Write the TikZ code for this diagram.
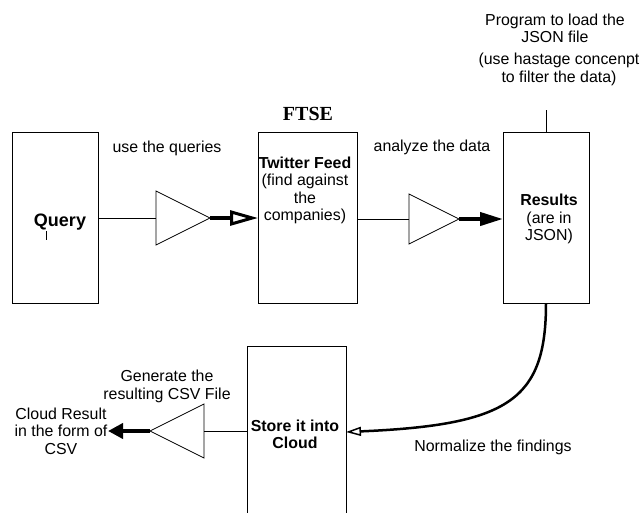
\documentclass[tikz,border=0pt]{standalone}
\usepackage{fontspec}
\setmainfont{Liberation Sans}
\newfontfamily\ftsefont{Liberation Serif}
\usepackage{tikz}
\usetikzlibrary{arrows.meta,shapes.geometric}
\tikzstyle{blockbox}=[rectangle,draw=black,line width=0.8pt,inner sep=0pt,outer sep=0pt]
\tikzstyle{amp}=[isosceles triangle,isosceles triangle stretches,draw=black,line width=0.8pt,inner sep=0pt,outer sep=0pt,minimum width=54pt,minimum height=54pt]
\tikzstyle{thinedge} = [draw,line width=0.8pt]
\tikzstyle{fatedge} = [draw,line width=4pt]
\tikzstyle{txt} = [align=center,inner sep=0pt,font=\fontsize{15.9}{17.5}\selectfont]

\begin{document}
\begin{tikzpicture}[x=1pt,y=-1pt]
  \useasboundingbox (0,0) rectangle (642,512);

   \foreach \x/\y/\w/\h/\name in {55/217.5/86/171/query, 307.5/217.5/99/171/twit, 546/217.5/86/171/res, 296.5/432/99/172/store}
          \node[blockbox,minimum width=\w pt,minimum height=\h pt] (\name) at (\x,\y) {};

   \node[amp,anchor=apex] (amp1) at (210,218) {};
   \node[amp,anchor=apex,minimum width=50pt,minimum height=50pt] (amp2) at (459,219) {};
   \node[amp,anchor=apex,shape border rotate=180] (amp3) at (150,431) {};

   \foreach \x/\y/\name/\label in {305/190.5/twittxt/{\textbf{Twitter Feed}\\(find against\\the\\companies)}, 549/219/restxt/{\textbf{Results}\\(are in\\JSON)}, 295/434.5/storetxt/{\textbf{Store it into}\\\textbf{Cloud}}}
          \node[txt] (\name) at (\x,\y) {\label};
   \node[txt,font=\bfseries\fontsize{18}{20}\selectfont] (querytxt) at (60,222) {Query};

   \foreach \x/\y/\name/\label in {167/148/usetxt/{use the queries}, 432/147/analyzetxt/{analyze the data}, 493/447/normtxt/{Normalize the findings}, 167/386.5/gentxt/{Generate the\\resulting CSV File}, 61/431/csvtxt/{Cloud Result\\in the form of\\CSV}, 555/28.5/progtxt/{Program to load the\\JSON file}, 559/69.5/hashtxt/{(use hastage concenpt\\to filter the data)}}
          \node[txt] (\name) at (\x,\y) {\label};

   \node[inner sep=0pt,font=\ftsefont\bfseries\fontsize{20}{22}\selectfont] (ftse) at (308,114) {FTSE};

   \coordinate (progend) at (546,110);
   \coordinate (csvend) at (108,431);

  \path[thinedge] (query.east |- amp1.lower side) -- (amp1.lower side);
  \path[fatedge,-{Triangle[open,length=28pt,width=15pt,line width=3pt]}] (amp1.apex) -- (amp1.apex -| twit.west);
  \path[thinedge] (twit.east |- amp2.lower side) -- (amp2.lower side);
  \path[fatedge,-{Triangle[length=23pt,width=13pt]}] (amp2.apex) -- (amp2.apex -| res.west);
  \path[thinedge] (res.north) -- (progend);
  \path[draw,line width=2.5pt,-{Triangle[open,length=15pt,width=9pt,line width=1.5pt]}] (res.south) .. controls +(0,97) and +(163,-7) .. (store.east);
  \path[thinedge] (store.west |- amp3.lower side) -- (amp3.lower side);
  \path[fatedge,-{Triangle[length=15pt,width=15pt]}] (amp3.apex) -- (csvend);

  \draw[line width=0.8pt] (46,231) -- (46,240);

\end{tikzpicture}
\end{document}
